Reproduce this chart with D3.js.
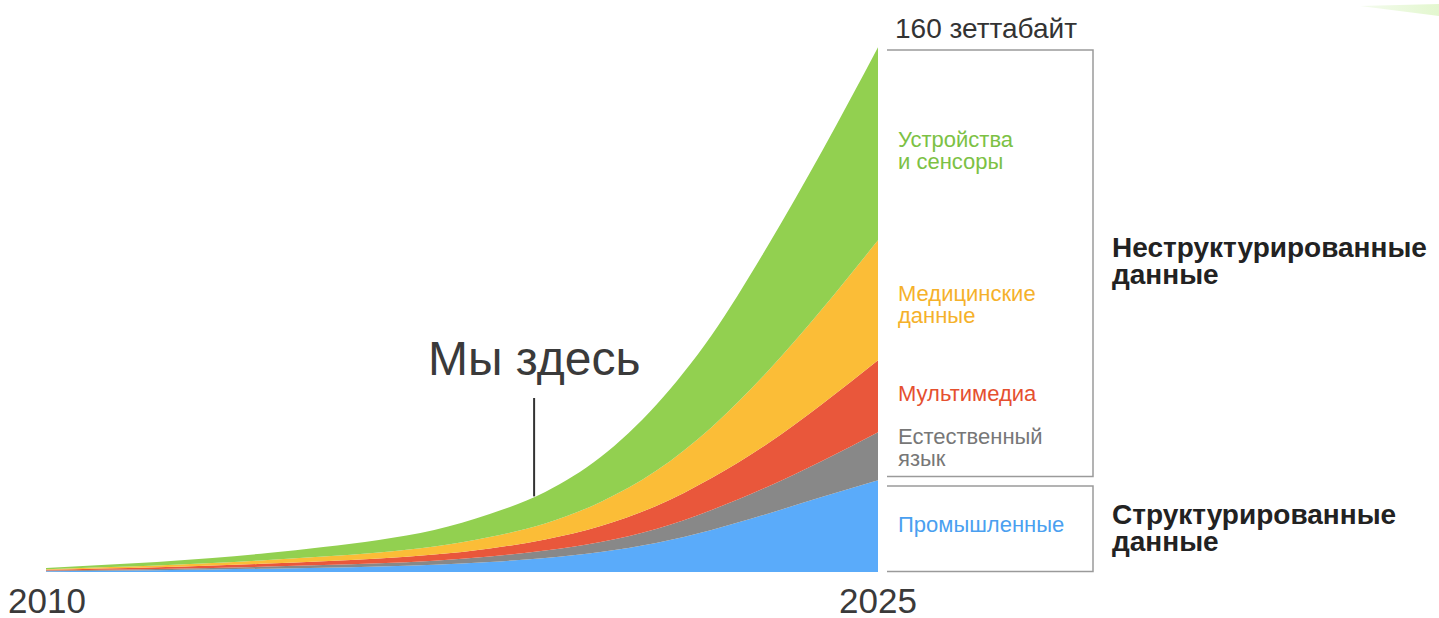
<!DOCTYPE html>
<html>
<head>
<meta charset="utf-8">
<title>Рост объёма данных</title>
<script src="https://d3js.org/d3.v7.min.js"></script>
<style>
	body { margin: 0; background: #fff; }
	svg { display: block; font-family: "Liberation Sans", Arial, sans-serif; }
	.year { font-size: 35px; fill: #3a3a3a; }
	.bracket { fill: none; stroke: #9a9a9a; stroke-width: 1.5px; }
	.group { font-size: 28px; font-weight: bold; fill: #222; }
	.layerLabel { font-size: 22px; }
</style>
</head>
<body>
<div id="chart"></div>
<script>
// values, zettabytes per year
var years = [2010, 2011, 2012, 2013, 2014, 2015, 2016, 2017, 2018, 2019, 2020, 2021, 2022, 2023, 2024, 2025];
var industrial = [0.24, 0.40, 0.55, 0.76, 1.01, 1.31, 1.68, 2.19, 3.05, 4.27, 6.10, 8.84, 12.8, 17.7, 22.9, 28.0];
var naturalLang = [0.18, 0.27, 0.37, 0.49, 0.64, 0.79, 0.98, 1.25, 1.68, 2.29, 3.05, 4.27, 6.10, 8.23, 11.0, 14.6];
var multimedia = [0.24, 0.37, 0.52, 0.70, 0.91, 1.19, 1.46, 1.86, 2.44, 3.35, 4.88, 7.01, 9.75, 13.1, 17.4, 21.9];
var medical = [0.18, 0.37, 0.55, 0.79, 1.10, 1.43, 1.83, 2.50, 3.50, 4.88, 7.31, 10.7, 15.5, 21.9, 29.0, 36.6];
var devices = [0.37, 0.73, 1.07, 1.52, 2.13, 2.90, 3.81, 5.00, 7.01, 9.60, 13.7, 20.1, 28.0, 38.1, 48.2, 58.8];

var seriesKeys = ['industrial', 'naturalLang', 'multimedia', 'medical', 'devices'];
var seriesLabels = [['Промышленные'], ['Естественный', 'язык'], ['Мультимедиа'], ['Медицинские', 'данные'], ['Устройства', 'и сенсоры']];
var totalLabel = '160 зеттабайт';
var nowLabel = 'Мы здесь';
var nowYear = 2018.8;
var groupLabels = [['Неструктурированные', 'данные'], ['Структурированные', 'данные']];

var width = 1439, height = 618;
var fills = ['#5aabfa', '#888888', '#e9573b', '#fbbd37', '#92d050'];
var textColors = ['#4a9ff0', '#777777', '#e5502f', '#f5b12a', '#7cc144'];

var svg = d3.select('#chart').append('svg')
	.attr('width', width)
	.attr('height', height);

// faint green sliver in the top right corner
var grad = svg.append('defs').append('linearGradient').attr('id', 'sliver');
grad.append('stop').attr('offset', '0%').attr('stop-color', '#f4fbee');
grad.append('stop').attr('offset', '100%').attr('stop-color', '#e3f7cf');
svg.append('path')
	.attr('d', 'M1360,6 L1439,4 L1439,16 Z')
	.attr('fill', 'url(#sliver)');

var table = years.map(function(y, i) {
	return { year: y, industrial: industrial[i], naturalLang: naturalLang[i], multimedia: multimedia[i], medical: medical[i], devices: devices[i] };
});

var xScale = d3.scaleLinear().domain([2010, 2025]).range([46, 878]);
var yScale = d3.scaleLinear().domain([0, 160]).range([572, 47]);

var stacked = d3.stack().keys(seriesKeys)(table);

var area = d3.area()
	.x(function(d) { return xScale(d.data.year); })
	.y0(function(d) { return yScale(d[0]); })
	.y1(function(d) { return yScale(d[1]); })
	.curve(d3.curveMonotoneX);

svg.selectAll('.layer')
	.data(stacked)
	.enter()
	.append('path')
	.attr('class', 'layer')
	.attr('d', area)
	.attr('fill', function(d, i) { return fills[i]; });

// year labels
svg.append('text').attr('class', 'year')
	.attr('x', xScale(2010) - 38).attr('y', 613)
	.text(years[0]);
svg.append('text').attr('class', 'year')
	.attr('x', xScale(2025)).attr('y', 613)
	.attr('text-anchor', 'middle')
	.text(years[years.length - 1]);

// "we are here" marker
var topAt = d3.scaleLinear().domain(years).range(stacked[4].map(function(d) { return d[1]; }));
svg.append('line')
	.attr('x1', xScale(nowYear)).attr('x2', xScale(nowYear))
	.attr('y1', 398).attr('y2', yScale(topAt(nowYear)))
	.attr('stroke', '#333').attr('stroke-width', 2);
svg.append('text')
	.attr('x', 428).attr('y', 375)
	.attr('font-size', 48).attr('fill', '#3a3a3a')
	.text(nowLabel);

// total label
svg.append('text')
	.attr('x', 895).attr('y', 38)
	.attr('font-size', 28).attr('fill', '#333')
	.text(totalLabel);

// brackets
var bx0 = 887, bx1 = 1093;
svg.append('path').attr('class', 'bracket')
	.attr('d', 'M' + bx0 + ',50 H' + bx1 + ' V476.5 H' + bx0);
svg.append('path').attr('class', 'bracket')
	.attr('d', 'M' + bx0 + ',486 H' + bx1 + ' V571.5 H' + bx0);

// layer labels
var labelY = [532, 444, 401, 301, 147];
seriesLabels.forEach(function(lines, i) {
	var t = svg.append('text')
		.attr('class', 'layerLabel')
		.attr('x', 898).attr('y', labelY[i])
		.attr('fill', textColors[i]);
	lines.forEach(function(line, j) {
		t.append('tspan').attr('x', 898).attr('dy', j === 0 ? 0 : 22).text(line);
	});
});

// group labels
var groupY = [257, 524];
groupLabels.forEach(function(lines, i) {
	var t = svg.append('text')
		.attr('class', 'group')
		.attr('x', 1112).attr('y', groupY[i]);
	lines.forEach(function(line, j) {
		t.append('tspan').attr('x', 1112).attr('dy', j === 0 ? 0 : 27).text(line);
	});
});
</script>
</body>
</html>
